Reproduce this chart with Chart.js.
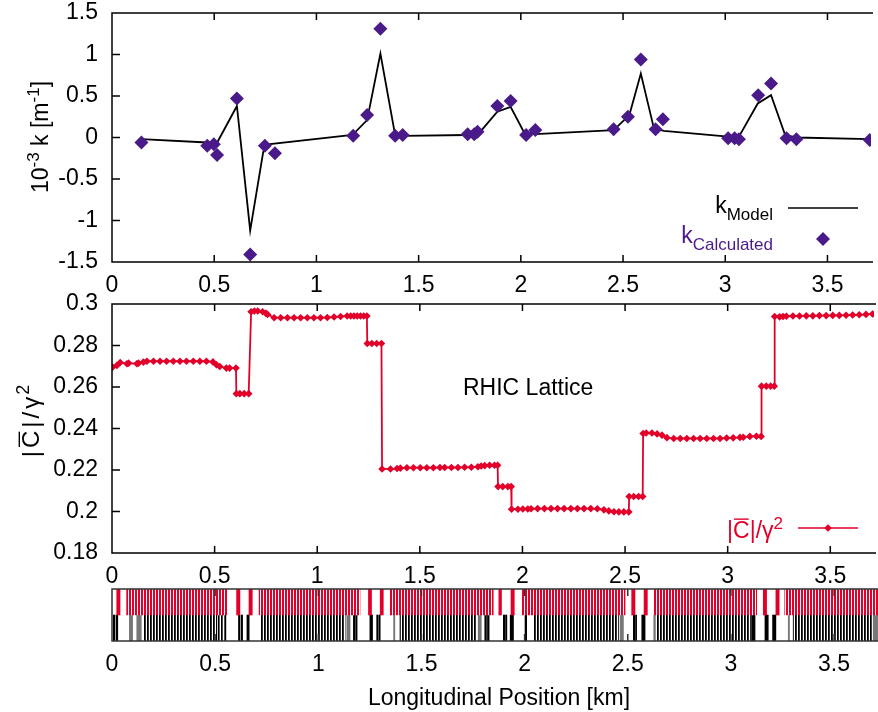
<!DOCTYPE html>
<html>
<head>
<meta charset="utf-8">
<title>RHIC Lattice</title>
<script src="https://cdn.jsdelivr.net/npm/chart.js@4.4.1/dist/chart.umd.min.js"></script>
<style>
  html, body { margin: 0; padding: 0; background: #fff; overflow: hidden; }
  #wrap { position: relative; width: 878px; height: 712px; }
  #wrap canvas { position: absolute; left: 0; top: 0; }
</style>
</head>
<body>
<div id="wrap">
  <canvas id="kChart" width="878" height="712"></canvas>
  <canvas id="cChart" width="878" height="712"></canvas>
  <canvas id="latChart" width="878" height="712"></canvas>
</div>
<script>
// ---- data (km along the ring) ----
const kModelPos = [0.144, 0.466, 0.506, 0.611, 0.676, 0.740, 0.773, 1.176, 1.248, 1.313, 1.385, 1.422, 1.740, 1.805, 1.885, 1.950, 2.014, 2.071, 2.454, 2.531, 2.587, 2.651, 2.700, 3.014, 3.067, 3.159, 3.224, 3.293, 3.348, 3.707];
const kModelVal = [-0.02, -0.06, -0.10, 0.38, -1.12, -0.17, -0.08, 0.03, 0.21, 1.01, 0.03, 0.02, 0.03, 0.08, 0.31, 0.37, 0.07, 0.04, 0.09, 0.27, 0.77, 0.11, 0.08, 0.01, 0.01, 0.41, 0.51, 0.03, 0.00, -0.02];

const kCalcPos = [0.144, 0.466, 0.498, 0.514, 0.611, 0.676, 0.748, 0.797, 1.180, 1.248, 1.313, 1.385, 1.422, 1.740, 1.772, 1.788, 1.885, 1.950, 2.026, 2.071, 2.454, 2.524, 2.587, 2.659, 2.695, 3.014, 3.046, 3.067, 3.161, 3.224, 3.300, 3.348, 3.707];
const kCalcVal = [-0.06, -0.10, -0.08, -0.21, 0.47, -1.41, -0.10, -0.19, 0.02, 0.27, 1.31, 0.02, 0.03, 0.04, 0.04, 0.07, 0.38, 0.44, 0.03, 0.09, 0.10, 0.25, 0.94, 0.10, 0.22, -0.01, -0.01, -0.02, 0.51, 0.65, -0.01, -0.02, -0.03];

const posC = [
  0.003, 0.024, 0.040, 0.073, 0.081, 0.121, 0.129, 0.153, 0.170, 0.202, 0.234, 0.266, 0.299, 0.331, 0.363, 0.396, 0.428, 0.460, 0.492, 0.509, 0.525, 0.557, 0.573, 0.604,
  0.606, 0.623, 0.644, 0.666,
  0.678, 0.694, 0.710, 0.734, 0.750, 0.758, 0.790, 0.822, 0.855, 0.887, 0.919, 0.952, 0.984, 1.016, 1.049, 1.082, 1.114, 1.146, 1.163, 1.179, 1.195, 1.211, 1.227, 1.242,
  1.244, 1.266, 1.290, 1.313,
  1.316, 1.357, 1.389, 1.405, 1.437, 1.469, 1.502, 1.534, 1.566, 1.598, 1.621, 1.654, 1.686, 1.718, 1.751, 1.783, 1.799, 1.816, 1.840, 1.864, 1.879,
  1.881, 1.904, 1.929, 1.945,
  1.947, 1.978, 2.002, 2.026, 2.042, 2.074, 2.107, 2.139, 2.171, 2.203, 2.236, 2.268, 2.300, 2.333, 2.365, 2.397, 2.421, 2.446, 2.470, 2.494, 2.518,
  2.520, 2.542, 2.566, 2.586,
  2.588, 2.603, 2.631, 2.656, 2.680, 2.704, 2.737, 2.769, 2.801, 2.834, 2.866, 2.898, 2.931, 2.963, 2.995, 3.027, 3.060, 3.076, 3.108, 3.140, 3.163,
  3.165, 3.188, 3.209, 3.227,
  3.229, 3.253, 3.270, 3.286, 3.318, 3.350, 3.383, 3.415, 3.447, 3.480, 3.512, 3.544, 3.577, 3.609, 3.641, 3.674, 3.706, 3.738
];
const valC = [
  0.2696, 0.2704, 0.2718, 0.2712, 0.2715, 0.2712, 0.2715, 0.2720, 0.2724, 0.2724, 0.2724, 0.2724, 0.2724, 0.2724, 0.2724, 0.2724, 0.2724, 0.2724, 0.2721, 0.2707, 0.2699, 0.2691, 0.2691, 0.2691,
  0.2568, 0.2568, 0.2568, 0.2568,
  0.2963, 0.2966, 0.2966, 0.2963, 0.2955, 0.2950, 0.2934, 0.2934, 0.2934, 0.2934, 0.2934, 0.2934, 0.2934, 0.2934, 0.2935, 0.2937, 0.2940, 0.2942, 0.2942, 0.2942, 0.2942, 0.2942, 0.2942, 0.2942,
  0.2810, 0.2810, 0.2810, 0.2810,
  0.2205, 0.2205, 0.2207, 0.2209, 0.2211, 0.2211, 0.2211, 0.2211, 0.2211, 0.2212, 0.2212, 0.2212, 0.2212, 0.2213, 0.2213, 0.2216, 0.2219, 0.2221, 0.2223, 0.2223, 0.2223,
  0.2120, 0.2120, 0.2120, 0.2120,
  0.2011, 0.2011, 0.2012, 0.2012, 0.2013, 0.2014, 0.2014, 0.2014, 0.2014, 0.2014, 0.2014, 0.2014, 0.2014, 0.2014, 0.2013, 0.2008, 0.2003, 0.1999, 0.1998, 0.1998, 0.1998,
  0.2072, 0.2072, 0.2072, 0.2072,
  0.2376, 0.2378, 0.2378, 0.2374, 0.2368, 0.2356, 0.2352, 0.2352, 0.2352, 0.2352, 0.2352, 0.2352, 0.2352, 0.2352, 0.2354, 0.2355, 0.2357, 0.2358, 0.2362, 0.2363, 0.2362,
  0.2604, 0.2604, 0.2604, 0.2604,
  0.2940, 0.2938, 0.2940, 0.2941, 0.2942, 0.2942, 0.2943, 0.2943, 0.2944, 0.2944, 0.2945, 0.2945, 0.2946, 0.2947, 0.2948, 0.2950, 0.2952, 0.2953
];

// lattice elements as [start, end] in km
const bendSingles = [[0.023, 0.039], [0.604, 0.620], [0.664, 0.680], [1.243, 1.258], [1.300, 1.315], [1.875, 1.888], [1.934, 1.950], [2.519, 2.535], [2.579, 2.595], [3.157, 3.173], [3.218, 3.234]];
const bendArcs = [[0.071, 0.556], [0.713, 1.202], [1.348, 1.848], [1.986, 2.487], [2.627, 3.125], [3.261, 3.80]];
const quadSingles = [[0.006, 0.014], [0.020, 0.028], [0.515, 0.520], [0.530, 0.535], [0.546, 0.552], [0.613, 0.620], [0.626, 0.633], [0.654, 0.665], [1.170, 1.177], [1.181, 1.188], [1.250, 1.263], [1.283, 1.290], [1.294, 1.300], [1.807, 1.815], [1.820, 1.828], [1.897, 1.905], [1.908, 1.914], [1.930, 1.946], [2.002, 2.010], [2.527, 2.535], [2.538, 2.543], [2.568, 2.584], [3.100, 3.117], [3.165, 3.181], [3.202, 3.218]];
const sextGray = [[0.084, 0.100], [0.120, 0.142], [1.138, 1.154], [1.365, 1.371], [1.775, 1.790], [2.463, 2.479], [2.626, 2.634], [3.278, 3.284], [3.690, 3.720]];
const quadArcs = [[0.153, 0.508], [0.723, 1.130], [1.396, 1.767], [2.043, 2.455], [2.640, 3.095], [3.302, 3.682]];

const xTicks = [0, 0.5, 1, 1.5, 2, 2.5, 3, 3.5];
const X_MAX = 3.713;
const RED = '#e2002a';
const PURPLE = '#4a1a8a';
const FONT = '"Liberation Sans", Arial, Helvetica, sans-serif';

Chart.defaults.font.family = FONT;
Chart.defaults.font.size = 23;
Chart.defaults.color = '#000';

const fmt = v => String(+Number(v).toFixed(2));

function xAxis() {
  return {
    type: 'linear', min: 0, max: X_MAX,
    grid: { display: false, drawTicks: false },
    border: { display: false },
    afterBuildTicks: s => { s.ticks = xTicks.map(v => ({ value: v })); },
    ticks: { padding: 10, maxRotation: 0, autoSkip: false, callback: fmt },
    afterFit: s => { s.height = 40; }
  };
}

// fixed-width y axis whose end labels may overhang the frame
const yFit = s => { s.width = 112; s.paddingTop = 0; s.paddingBottom = 0; };

// gnuplot-like frame with inward ticks
const frameTicks = {
  id: 'frameTicks',
  afterDatasetsDraw(chart, args, opts) {
    const { ctx, chartArea: a, scales } = chart;
    ctx.save();
    ctx.strokeStyle = opts.color || '#000';
    ctx.lineWidth = 1.5;
    ctx.beginPath();
    ctx.moveTo(a.right + 2, a.top);
    ctx.lineTo(a.left, a.top);
    ctx.lineTo(a.left, a.bottom);
    ctx.lineTo(a.right + 2, a.bottom);
    scales.x.ticks.forEach(t => {
      const px = scales.x.getPixelForValue(t.value);
      ctx.moveTo(px, a.bottom); ctx.lineTo(px, a.bottom - 7);
      ctx.moveTo(px, a.top); ctx.lineTo(px, a.top + 7);
    });
    if (opts.yTicks) {
      scales.y.ticks.forEach(t => {
        const py = scales.y.getPixelForValue(t.value);
        ctx.moveTo(a.left, py); ctx.lineTo(a.left + 8, py);
      });
    }
    ctx.stroke();
    ctx.restore();
  }
};

// text with super/subscripts, overline and optional extra gap after a part
function richText(ctx, segs, x, y, align, color, size) {
  const small = Math.round(size * 0.76);
  const parts = segs.map(s => {
    const fs = (s.sup || s.sub) ? small : size;
    ctx.font = fs + 'px ' + FONT;
    return Object.assign({}, s, { fs, w: ctx.measureText(s.t).width + (s.gap || 0) });
  });
  const total = parts.reduce((a, p) => a + p.w, 0);
  let cx = align === 'right' ? x - total : align === 'center' ? x - total / 2 : x;
  ctx.fillStyle = color;
  ctx.strokeStyle = color;
  ctx.textAlign = 'left';
  ctx.textBaseline = 'alphabetic';
  parts.forEach(p => {
    ctx.font = p.fs + 'px ' + FONT;
    const dy = p.sup ? -size * 0.4 : p.sub ? size * 0.3 : 0;
    ctx.fillText(p.t, cx, y + dy);
    if (p.over) {
      const w = p.w - (p.gap || 0);
      ctx.lineWidth = 1.4;
      ctx.beginPath();
      ctx.moveTo(cx + 1, y - size * 0.82);
      ctx.lineTo(cx + w - 1, y - size * 0.82);
      ctx.stroke();
    }
    cx += p.w;
  });
}

function diamond(ctx, x, y, r, color) {
  ctx.fillStyle = color;
  ctx.beginPath();
  ctx.moveTo(x - r, y); ctx.lineTo(x, y - r); ctx.lineTo(x + r, y); ctx.lineTo(x, y + r);
  ctx.closePath();
  ctx.fill();
}

const cLabel = [{ t: '|' }, { t: 'C', over: true }, { t: '|/γ' }, { t: '2', sup: true }];
const cTitle = [{ t: '|', gap: 3 }, { t: 'C', over: true, gap: 3 }, { t: '|', gap: 3 }, { t: '/', gap: 3 }, { t: 'γ', gap: 2 }, { t: '2', sup: true }];

const kText = {
  id: 'kText',
  afterDraw(chart) {
    const ctx = chart.ctx;
    ctx.save();
    ctx.translate(48, 137);
    ctx.rotate(-Math.PI / 2);
    richText(ctx, [{ t: '10' }, { t: '-3', sup: true }, { t: ' k [m' }, { t: '-1', sup: true }, { t: ']' }], 0, 0, 'center', '#000', 23);
    ctx.restore();
    ctx.save();
    richText(ctx, [{ t: 'k' }, { t: 'Model', sub: true }], 773, 213, 'right', '#000', 23);
    ctx.strokeStyle = '#000';
    ctx.lineWidth = 1.6;
    ctx.beginPath(); ctx.moveTo(788, 208); ctx.lineTo(858, 208); ctx.stroke();
    richText(ctx, [{ t: 'k' }, { t: 'Calculated', sub: true }], 773, 243, 'right', PURPLE, 23);
    diamond(ctx, 823, 239, 7, PURPLE);
    ctx.restore();
  }
};

const cText = {
  id: 'cText',
  afterDraw(chart) {
    const ctx = chart.ctx;
    ctx.save();
    ctx.translate(39, 421);
    ctx.rotate(-Math.PI / 2);
    richText(ctx, cTitle, 0, 0, 'center', '#000', 24);
    ctx.restore();
    ctx.save();
    ctx.font = '23px ' + FONT;
    ctx.fillStyle = '#000';
    ctx.fillText('RHIC Lattice', 463, 395);
    richText(ctx, cLabel, 783, 538, 'right', RED, 23);
    ctx.strokeStyle = RED;
    ctx.lineWidth = 1.6;
    ctx.beginPath(); ctx.moveTo(798, 528); ctx.lineTo(858, 528); ctx.stroke();
    diamond(ctx, 828, 528, 3.8, RED);
    ctx.restore();
  }
};

const latText = {
  id: 'latText',
  afterDraw(chart) {
    const ctx = chart.ctx;
    ctx.save();
    ctx.font = '23px ' + FONT;
    ctx.fillStyle = '#000';
    ctx.textAlign = 'center';
    ctx.fillText('Longitudinal Position [km]', 499, 705);
    ctx.restore();
  }
};

const baseOpts = {
  responsive: false,
  animation: false,
  events: [],
};

// top: focusing strength
new Chart(document.getElementById('kChart'), {
  type: 'scatter',
  data: {
    datasets: [
      {
        label: 'kCalculated',
        data: kCalcPos.map((x, i) => ({ x, y: kCalcVal[i] })),
        showLine: false,
        pointStyle: 'rectRot',
        pointRadius: 7,
        pointBackgroundColor: PURPLE,
        pointBorderWidth: 0,
        order: 0
      },
      {
        label: 'kModel',
        data: kModelPos.map((x, i) => ({ x, y: kModelVal[i] })),
        showLine: true,
        borderColor: '#000',
        borderWidth: 1.8,
        pointRadius: 0,
        order: 1
      }
    ]
  },
  options: Object.assign({}, baseOpts, {
    layout: { padding: { top: 13, right: 0, bottom: 410, left: 0 } },
    plugins: { legend: { display: false }, tooltip: { enabled: false }, frameTicks: { yTicks: true } },
    scales: {
      x: xAxis(),
      y: {
        min: -1.5, max: 1.5,
        grid: { display: false, drawTicks: false },
        border: { display: false },
        ticks: { stepSize: 0.5, padding: 14, callback: fmt },
        afterFit: yFit
      }
    }
  }),
  plugins: [frameTicks, kText]
});

// middle: |C|/gamma^2
new Chart(document.getElementById('cChart'), {
  type: 'scatter',
  data: {
    datasets: [{
      label: '|C|/γ²',
      data: posC.map((x, i) => ({ x, y: valC[i] })),
      showLine: true,
      borderColor: RED,
      borderWidth: 1.8,
      pointStyle: 'rectRot',
      pointRadius: 3.8,
      pointBackgroundColor: RED,
      pointBorderWidth: 0
    }]
  },
  options: Object.assign({}, baseOpts, {
    layout: { padding: { top: 304, right: 0, bottom: 119, left: 0 } },
    plugins: { legend: { display: false }, tooltip: { enabled: false }, frameTicks: { yTicks: true } },
    scales: {
      x: xAxis(),
      y: {
        min: 0.18, max: 0.3,
        grid: { display: false, drawTicks: false },
        border: { display: false },
        ticks: { stepSize: 0.02, padding: 14, callback: fmt },
        afterFit: yFit
      }
    }
  }),
  plugins: [frameTicks, cText]
});

// bottom: lattice elements
const latCanvas = document.getElementById('latChart');
const latCtx = latCanvas.getContext('2d');
function stripes(cols) {
  const c = document.createElement('canvas');
  c.width = cols.length; c.height = 1;
  const g = c.getContext('2d');
  cols.forEach((col, i) => { g.fillStyle = col; g.fillRect(i, 0, 1, 1); });
  return latCtx.createPattern(c, 'repeat');
}
const redStripes = stripes([RED, RED, '#fff']);
const blackStripes = stripes(['#000', '#333', '#fff']);

const barSet = (label, list, row, color) => ({
  label,
  data: list.map(r => ({ x: r, y: row })),
  backgroundColor: color,
  borderWidth: 0,
  grouped: false,
  categoryPercentage: 1,
  barPercentage: 1
});

new Chart(latCanvas, {
  type: 'bar',
  data: {
    labels: ['bend', 'quad'],
    datasets: [
      barSet('bend arcs', bendArcs, 'bend', redStripes),
      barSet('bends', bendSingles, 'bend', RED),
      barSet('quad arcs', quadArcs, 'quad', blackStripes),
      barSet('sextupoles', sextGray, 'quad', '#777'),
      barSet('quads', quadSingles, 'quad', '#000')
    ]
  },
  options: Object.assign({}, baseOpts, {
    indexAxis: 'y',
    layout: { padding: { top: 589, right: 0, bottom: 31, left: 0 } },
    plugins: { legend: { display: false }, tooltip: { enabled: false }, frameTicks: { yTicks: false, color: '#333' } },
    scales: {
      x: xAxis(),
      y: {
        type: 'category',
        grid: { display: false, drawTicks: false },
        border: { display: false },
        ticks: { display: false },
        afterFit: yFit
      }
    }
  }),
  plugins: [frameTicks, latText]
});
</script>
</body>
</html>
